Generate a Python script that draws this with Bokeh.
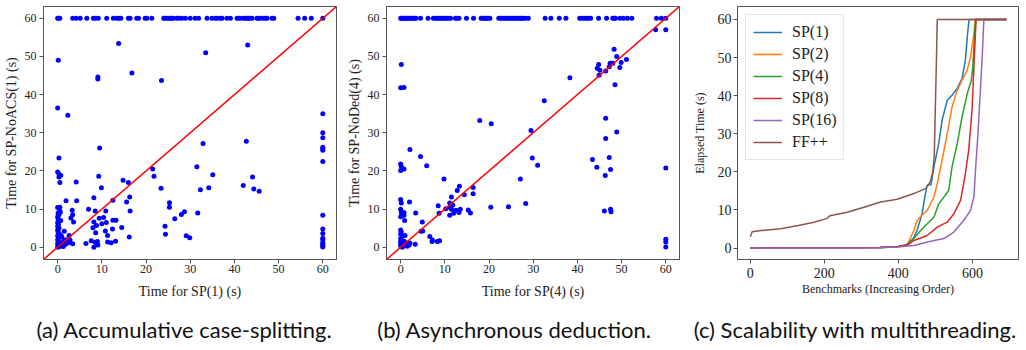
from bokeh.plotting import figure
from bokeh.models import Range1d, Slope, Label, Legend, LegendItem, FixedTicker
from bokeh.layouts import row, column
from bokeh.embed import file_html
from bokeh.resources import INLINE

# ---------------- data: panel (a) SP(1) vs SP-NoACS(1) ----------------
a_top_x = [0.0, 0.15, 0.5, 3.4, 4.2, 5.1, 6.6, 8.1, 8.5, 9.2, 11.1, 12.6, 13.4, 13.8, 14.3,
           16.0, 16.4, 17.9, 18.3, 19.8, 20.2, 21.3, 24.0, 24.3, 24.7, 25.1, 25.5, 25.8, 26.2,
           27.0, 27.4, 28.1, 28.9, 30.0, 31.1, 31.9, 33.8, 34.9, 35.7, 36.1, 36.8, 37.2, 38.3,
           39.1, 40.6, 41.0, 41.3, 42.1, 42.5, 42.9, 43.2, 43.6, 44.0, 45.1, 45.5, 45.9, 46.6,
           47.0, 47.4, 48.5, 48.9, 54.4, 55.9, 57.4, 60.0]
a_top_y = [60.0] * len(a_top_x)
a_x = [13.8, 43.0, 33.5, 0.15, 16.8, 9.1, 9.1, 23.5, 0.0, 2.3,
       60, 60, 60, 60, 60, 60, 60,
       42.7, 32.9, 9.5, 0.3,
       0.0, 0.3, 0.7, 0.3, 0.5,
       21.5, 31.5, 21.8, 9.3, 35.1, 44.1, 4.2, 14.8, 16.0, 42.0, 9.9, 23.4, 34.2, 32.3, 44.4, 45.6,
       1.9, 4.3, 8.2, 16.3, 12.5, 15.6, 25.3, 25.3, 0.0, 0.5,
       31.7, 28.7, 28.0, 60, 26.5, 16.4, 7.0, 8.5, 10.9, 3.3, 3.4, 3.6, 3.0, 9.4, 10.4, 10.0, 11.0,
       8.2, 8.8, 8.0, 12.5, 13.2, 12.4, 14.5, 10.8, 11.3, 8.6, 24.3, 24.4, 29.1, 29.9, 16.2, 13.1,
       11.3, 12.1, 6.4, 7.6, 8.5, 9.0, 8.8, 8.2, 9.1, 3.4, 2.6,
       0.0, 0.1, 0.2, 0.0, 0.3, 0.0, 0.2, 0.0, 0.4, 0.1, 0.0, 0.3, 0.0, 0.2, 0.0, 0.4, 0.1, 0.0,
       0.3, 0.1, 0.5, 0.6, 1.0, 1.5, 2.0, 2.5, 1.2, 0.8, 1.8, 2.2, 1.5, 0.7, 0.6, 1.0, 0.5, 2.8, 1.3,
       60, 60, 60, 60, 60, 60, 60, 60]
a_y = [53.4, 53.0, 51.0, 49.0, 45.7, 44.6, 44.1, 43.7, 36.5, 34.6,
       35.0, 30.0, 28.7, 26.2, 25.8, 25.4, 22.5,
       27.8, 27.2, 26.0, 23.4,
       19.7, 19.2, 18.8, 18.4, 17.0,
       20.5, 21.1, 18.6, 18.6, 19.0, 18.4, 17.1, 17.6, 17.0, 16.2, 15.6, 15.5, 15.6, 15.1, 15.3, 14.7,
       12.2, 12.2, 13.0, 13.2, 12.3, 11.9, 11.7, 10.5, 10.4, 10.5,
       9.0, 9.3, 8.6, 8.4, 7.5, 9.5, 10.0, 9.5, 9.5, 9.7, 8.5, 6.6, 7.7, 7.6, 7.8, 6.2, 6.5,
       6.6, 5.7, 5.1, 7.1, 7.1, 4.8, 5.2, 4.3, 3.1, 3.8, 5.5, 3.4, 3.0, 2.5, 2.7, 1.6,
       1.4, 1.2, 1.0, 1.7, 1.3, 1.5, 0.8, 0.0, 0.6, 0.9, 3.1,
       0.0, 0.3, 0.6, 1.0, 1.5, 2.0, 2.5, 3.0, 3.5, 4.0, 4.5, 5.0, 5.5, 6.0, 6.5, 7.0, 7.5, 8.0,
       8.5, 9.0, 9.5, 1.2, 1.0, 1.8, 2.0, 1.2, 0.5, 3.0, 0.8, 1.6, 4.2, 7.0, 9.2, 2.6, 0.2, 1.9, 0.2,
       4.8, 3.6, 2.4, 2.0, 1.2, 0.8, 0.4, 0.1]

# ---------------- data: panel (b) SP(4) vs SP-NoDed(4) ----------------
b_top_x = [0.0, 0.2, 0.5, 0.75, 1.05, 1.35, 1.65, 1.95, 2.3, 2.6, 2.9, 3.2, 3.5, 4.5, 6.2, 7.4,
           7.9, 8.3, 8.6, 9.0, 9.4, 9.8, 10.2, 10.5, 10.9, 11.3, 12.4, 12.8, 13.2, 14.9, 16.5,
           18.2, 18.6, 18.9, 19.2, 19.5, 19.8, 20.2, 22.2, 22.6, 22.9, 23.3, 23.7, 24.1, 24.4,
           24.8, 25.2, 25.6, 25.9, 26.3, 26.7, 27.1, 27.4, 27.8, 28.2, 28.9, 32.7, 34.0, 35.9,
           37.4, 40.5, 41.0, 41.5, 42.0, 42.5, 43.0, 44.8, 46.6, 48.0, 48.3, 48.6, 49.6, 50.4,
           51.3, 52.3, 57.9, 59.0, 60.0]
b_top_y = [60.0] * len(b_top_x)
b_x = [57.7, 60, 48.3, 48.9, 49.9, 51.1, 49.6, 47.2, 48.0, 44.8, 44.5, 45.1, 44.9, 46.4, 48.5,
       47.4, 38.3, 32.5, 0.15, 0.0, 0.75, 17.9, 20.5, 29.5, 46.4, 46.4, 48.9, 29.8, 31.0, 43.4,
       44.4, 47.2, 46.3, 47.5, 60, 2.1, 4.5, 5.9, 0.0, 0.15, 0.4, 0.0, 0.75, 9.8, 27.1, 13.3,
       16.4, 16.4, 12.8, 11.5, 14.4, 11.1, 0.0, 0.15, 2.0, 28.3, 8.5, 11.1, 11.8, 10.2, 11.5,
       12.5, 13.5, 13.2, 12.0, 15.3, 15.8, 11.1, 8.7, 20.4, 24.4, 46.1, 47.5, 47.6, 0.0, 0.15,
       0.45, 0.75, 0.3, 0.75, 0.0, 0.9, 3.4, 4.9, 4.6, 5.0, 6.6, 7.2, 7.1, 8.3, 8.8, 3.3, 0.0,
       0.15, 0.0, 0.4, 0.0, 1.0, 0.0, 0.0, 0.0, 0.2, 0.6, 1.1, 1.5, 1.9, 2.1, 0.8, 1.5, 0.4,
       60, 60, 60]
b_y = [57.0, 57.0, 51.9, 50.0, 48.4, 49.2, 47.1, 47.3, 48.2, 47.9, 46.9, 46.4, 45.1, 46.2, 42.6,
       48.2, 44.4, 38.4, 47.9, 41.8, 41.9, 33.2, 32.4, 30.6, 33.8, 28.5, 30.2, 23.4, 21.5, 23.0,
       21.0, 23.5, 18.8, 20.4, 20.8, 25.6, 23.8, 21.4, 21.8, 21.2, 20.5, 20.1, 20.5, 17.9, 17.9, 16.0,
       15.7, 14.0, 14.9, 13.2, 13.8, 11.6, 12.5, 11.6, 11.9, 11.5, 10.9, 10.4, 11.1, 10.1, 10.0,
       9.7, 10.0, 9.1, 8.9, 9.8, 9.0, 8.4, 8.9, 10.5, 10.6, 9.5, 10.0, 9.3, 10.0, 9.1,
       8.7, 9.1, 8.3, 8.4, 8.0, 7.0, 9.0, 6.6, 4.2, 4.3, 2.8, 1.9, 1.5, 1.5, 1.7, 0.8, 4.5,
       4.0, 3.5, 2.9, 2.3, 3.1, 1.5, 0.9, 0.4, 0.25, 1.1, 0.9, 1.1, 0.6, 1.1, 1.6, 0.3, 0.0,
       2.1, 1.4, 0.1]

# ---------------- data: panel (c) sorted elapsed times ----------------
sp1_x = [0, 200, 350, 400, 420, 440, 450, 460, 465, 473, 478, 488, 496, 509, 518, 532, 545, 559, 572, 581, 587, 591, 692]
sp1_y = [0.05, 0.08, 0.15, 0.4, 0.8, 2.5, 4.5, 7.7, 9.5, 14.3, 16.5, 16.6, 21.3, 27.4, 33.5, 38.8, 40.1, 41.9, 44.5, 49.3, 56.3, 60, 60]
sp2_x = [0, 200, 350, 400, 424, 442, 451, 464, 478, 496, 505, 518, 532, 545, 559, 572, 586, 595, 604, 607, 692]
sp2_y = [0.05, 0.08, 0.15, 0.4, 0.9, 4.6, 7.3, 8.6, 9.9, 13.4, 16.9, 23.0, 30.0, 37.0, 41.4, 44.0, 46.7, 50.2, 56.3, 60, 60]
sp4_x = [0, 200, 350, 400, 424, 442, 460, 478, 496, 509, 523, 536, 545, 559, 572, 586, 597, 601, 606, 609, 692]
sp4_y = [0.05, 0.08, 0.15, 0.4, 0.9, 2.5, 4.6, 6.4, 8.1, 11.6, 13.4, 15.1, 21.3, 27.4, 34.4, 40.5, 44.0, 47.5, 56.3, 60, 60]
sp8_x = [0, 200, 350, 400, 424, 442, 478, 505, 532, 550, 568, 581, 590, 599, 604, 610, 692]
sp8_y = [0.05, 0.08, 0.15, 0.4, 0.8, 2.0, 3.3, 5.5, 6.8, 9.0, 12.5, 19.5, 25.7, 36.2, 47.5, 60, 60]
sp16_x = [0, 200, 350, 397, 442, 478, 523, 550, 577, 595, 604, 609, 615, 620, 626, 631, 692]
sp16_y = [0.03, 0.05, 0.1, 0.3, 0.7, 1.6, 2.5, 4.2, 7.3, 9.9, 13.4, 21.3, 30.0, 38.8, 49.3, 60, 60]
ff_x = [0, 5, 30, 82, 130, 172, 208, 215, 262, 307, 352, 397, 442, 473, 486, 493, 497, 503, 505, 692]
ff_y = [3.0, 4.3, 4.6, 5.1, 5.9, 6.8, 7.8, 8.5, 9.4, 10.7, 12.1, 12.8, 14.3, 15.6, 17.3, 20.0, 24.5, 50.0, 60, 60]

c_names = ["SP(1)", "SP(2)", "SP(4)", "SP(8)", "SP(16)", "FF++"]
c_colors = ["#1f77b4", "#ff7f0e", "#2ca02c", "#d62728", "#9467bd", "#8c564b"]

scatter_ticks = [0, 10, 20, 30, 40, 50, 60]
c_xticks = [0, 200, 400, 600]
c_yticks = [0, 10, 20, 30, 40, 50, 60]

captions = ["(a) Accumulative case-splitting.",
            "(b) Asynchronous deduction.",
            "(c) Scalability with multithreading."]

SERIF = "Liberation Serif"
CAP_FONT = "Lato"
FRAME = "#555555"
PANEL_H = 312
CAP_H = 38


def style(p, tick_size, label_size):
    for ax in (p.xaxis, p.yaxis):
        ax.axis_line_color = FRAME
        ax.major_tick_line_color = FRAME
        ax.major_tick_out = 4
        ax.major_tick_in = 0
        ax.minor_tick_line_color = None
        ax.major_label_text_font = SERIF
        ax.major_label_text_font_size = tick_size
        ax.major_label_text_color = "#222222"
        ax.axis_label_text_font = SERIF
        ax.axis_label_text_font_size = label_size
        ax.axis_label_text_font_style = "normal"
        ax.axis_label_text_color = "#222222"
    p.xgrid.visible = False
    p.ygrid.visible = False
    p.outline_line_color = FRAME
    p.outline_line_width = 1
    p.background_fill_color = "white"
    p.border_fill_color = "white"


def scatter_panel(width, bl, br, tx, ty, xs, ys, xlabel, ylabel):
    p = figure(width=width, height=PANEL_H, output_backend="svg", toolbar_location=None,
               x_range=Range1d(-3.2, 63.1), y_range=Range1d(-3.2, 63.1),
               min_border_left=bl, min_border_right=br, min_border_top=5,
               min_border_bottom=PANEL_H - 5 - 262)
    style(p, "12px", "14px")
    p.xaxis.major_label_standoff = 1
    p.xaxis.axis_label_standoff = 8
    p.yaxis.major_label_standoff = 3
    p.yaxis.axis_label_standoff = 3
    p.xaxis.ticker = FixedTicker(ticks=scatter_ticks)
    p.yaxis.ticker = FixedTicker(ticks=scatter_ticks)
    p.xaxis.axis_label = xlabel
    p.yaxis.axis_label = ylabel
    p.scatter(tx, ty, size=5, color="#0000ff", line_color=None)
    p.scatter(xs, ys, size=5, color="#0000ff", line_color=None)
    p.add_layout(Slope(gradient=1, y_intercept=0, line_color="#ff0000", line_width=1.5))
    return p


pa = scatter_panel(340, 43, 4, a_top_x, a_top_y, a_x, a_y,
                   "Time for SP(1) (s)", "Time for SP-NoACS(1) (s)")
pb = scatter_panel(346, 46, 7, b_top_x, b_top_y, b_x, b_y,
                   "Time for SP(4) (s)", "Time for SP-NoDed(4) (s)")

pc = figure(width=338, height=PANEL_H, output_backend="svg", toolbar_location=None,
            x_range=Range1d(-34.5, 724.5), y_range=Range1d(-3.0, 63.4),
            min_border_left=51, min_border_right=6, min_border_top=6,
            min_border_bottom=PANEL_H - 6 - 253)
style(pc, "14px", "12px")
pc.xaxis.major_label_standoff = 4
pc.xaxis.axis_label_standoff = 1
pc.yaxis.major_label_standoff = 2
pc.yaxis.axis_label_standoff = 8
pc.xaxis.ticker = FixedTicker(ticks=c_xticks)
pc.yaxis.ticker = FixedTicker(ticks=c_yticks)
pc.xaxis.axis_label = "Benchmarks (Increasing Order)"
pc.yaxis.axis_label = "Elapsed Time (s)"

series = [(sp1_x, sp1_y), (sp2_x, sp2_y), (sp4_x, sp4_y), (sp8_x, sp8_y), (sp16_x, sp16_y), (ff_x, ff_y)]
items = []
for (xs, ys), name, col in zip(series, c_names, c_colors):
    r = pc.line(xs, ys, line_color=col, line_width=1.5)
    items.append(LegendItem(label=name, renderers=[r]))
legend = Legend(items=items, location="top_left", label_text_font=SERIF, label_text_font_size="16px",
                label_text_color="#222222", border_line_color="#cccccc", border_line_width=1,
                background_fill_color="white", background_fill_alpha=1.0,
                glyph_width=29, glyph_height=20, label_height=20, label_standoff=10,
                padding=7, spacing=2, margin=8)
pc.add_layout(legend)

# ---------------- caption strip (x in page pixels) ----------------
cap = figure(width=1024, height=CAP_H, output_backend="svg", toolbar_location=None,
             x_range=Range1d(0, 1024), y_range=Range1d(0, CAP_H),
             min_border=0, min_border_left=0, min_border_right=0, min_border_top=0, min_border_bottom=0)
cap.axis.visible = False
cap.xgrid.visible = False
cap.ygrid.visible = False
cap.outline_line_color = None
cap.background_fill_color = "white"
cap.border_fill_color = "white"
cap_centers = [184, 514, 855]
for txt, cx in zip(captions, cap_centers):
    cap.add_layout(Label(x=cx, y=CAP_H - (329 - PANEL_H), text=txt, text_align="center",
                         text_baseline="alphabetic", text_font=CAP_FONT, text_font_size="22px",
                         text_color="#111111"))

layout = column(row(pa, pb, pc), cap)
open("out.html", "w").write(file_html(layout, INLINE))
